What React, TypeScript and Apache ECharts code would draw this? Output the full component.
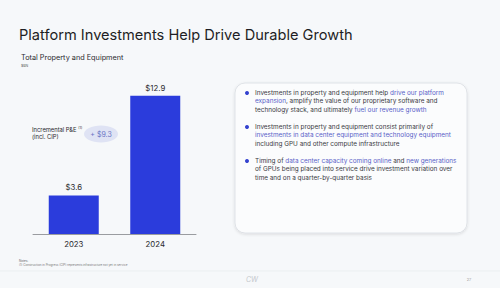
import React, { useEffect, useRef } from "react";
import * as echarts from "echarts";

const categories = ["2023", "2024"];
const values = [3.6, 12.9];
const valueLabels = ["$3.6", "$12.9"];
const incrementLabel = "+ $9.3";
const title = "Platform Investments Help Drive Durable Growth";
const subtitle = "Total Property and Equipment";
const unit = "$BN";
const bullets = [
  [
    "Investments in property and equipment help {h|drive our platform}",
    "{h|expansion}, amplify the value of our proprietary software and",
    "technology stack, and ultimately {h|fuel our revenue growth}",
  ],
  [
    "Investments in property and equipment consist primarily of",
    "{h|investments in data center equipment and technology equipment}",
    "including GPU and other compute infrastructure",
  ],
  [
    "Timing of {h|data center capacity coming online} and {h|new generations}",
    "of GPUs being placed into service drive investment variation over",
    "time and on a quarter-by-quarter basis",
  ],
];

const FONT = "Inter, 'Noto Sans', sans-serif";
const BLUE = "#2b3cdc";

export default function App() {
  const ref = useRef<HTMLDivElement>(null);
  useEffect(() => {
    const chart = echarts.init(ref.current!, null, { renderer: "svg" });
    const bulletTexts: any[] = [];
    const bulletStarts = [93, 127, 161];
    bullets.forEach((lines, i) => {
      bulletTexts.push({
        type: "circle",
        shape: { cx: 247, cy: bulletStarts[i], r: 2 },
        style: { fill: "#3442cf" },
      });
      bulletTexts.push({
        type: "text",
        x: 255,
        y: bulletStarts[i] - 4.5,
        style: {
          text: lines.join("\n"),
          fontFamily: FONT,
          fontSize: 6.4,
          lineHeight: 8.4,
          fill: "#3a3a3f",
          rich: {
            h: { fill: "#5a62c8", fontFamily: FONT, fontSize: 6.4, lineHeight: 8.4 },
          },
        },
      });
    });

    chart.setOption({
      animation: false,
      backgroundColor: "#f6f8fa",
      grid: { left: 33, right: 304, top: 84, bottom: 54 },
      xAxis: {
        type: "category",
        data: categories,
        axisLine: { lineStyle: { color: "#9a9ca0", width: 1 } },
        axisTick: { show: false },
        axisLabel: { color: "#2a2a2e", fontSize: 7.8, fontFamily: FONT, margin: 6 },
      },
      yAxis: { type: "value", min: 0, max: 14, show: false, splitLine: { show: false } },
      series: [
        {
          type: "bar",
          data: values,
          barWidth: 50,
          itemStyle: { color: BLUE },
          label: {
            show: true,
            position: "top",
            distance: 4,
            formatter: (p: any) => valueLabels[p.dataIndex],
            color: "#2a2a2e",
            fontSize: 7.8,
            fontFamily: FONT,
          },
        },
      ],
      graphic: [
        {
          type: "text",
          x: 19,
          y: 27,
          style: { text: title, fontFamily: FONT, fontSize: 14.6, fill: "#1e1e24" },
        },
        {
          type: "text",
          x: 21,
          y: 54,
          style: { text: subtitle, fontFamily: FONT, fontSize: 7.3, fill: "#2a2a2e" },
        },
        {
          type: "text",
          x: 21,
          y: 64,
          style: { text: unit, fontFamily: FONT, fontSize: 3.5, fill: "#555" },
        },
        {
          type: "text",
          x: 32,
          y: 126,
          style: {
            text: "Incremental P&E {s|(1)}\n(incl. CIP)",
            fontFamily: FONT,
            fontSize: 5.8,
            lineHeight: 7,
            fill: "#2a2a2e",
            rich: { s: { fontSize: 3.5, fontFamily: FONT, verticalAlign: "top", fill: "#2a2a2e" } },
          },
        },
        {
          type: "ellipse",
          shape: { cx: 101, cy: 134, rx: 17, ry: 8.5 },
          style: { fill: "#dfe3f4" },
        },
        {
          type: "text",
          x: 101,
          y: 134,
          style: {
            text: incrementLabel,
            fontFamily: FONT,
            fontSize: 7,
            fill: "#6a74c4",
            align: "center",
            verticalAlign: "middle",
          },
        },
        {
          type: "rect",
          shape: { x: 235, y: 83, width: 232, height: 150, r: 10 },
          style: {
            fill: "#fbfcfd",
            stroke: "#d9dde2",
            lineWidth: 0.8,
            shadowBlur: 3,
            shadowOffsetY: 1,
            shadowColor: "rgba(0,0,0,0.12)",
          },
        },
        ...bulletTexts,
        {
          type: "text",
          x: 19,
          y: 259,
          style: { text: "Notes:", fontFamily: FONT, fontSize: 3, fill: "#666" },
        },
        {
          type: "text",
          x: 19,
          y: 263,
          style: {
            text: "(1) Construction in Progress (CIP) represents infrastructure not yet in service",
            fontFamily: FONT,
            fontSize: 3,
            fill: "#777",
          },
        },
        {
          type: "line",
          shape: { x1: 0, y1: 271, x2: 500, y2: 271 },
          style: { stroke: "#e6e9ed", lineWidth: 0.6 },
        },
        {
          type: "text",
          x: 252,
          y: 279,
          style: {
            text: "CW",
            fontFamily: FONT,
            fontSize: 7,
            fontStyle: "italic",
            fill: "#c4c7cc",
            align: "center",
            verticalAlign: "middle",
          },
        },
        {
          type: "text",
          x: 469,
          y: 279,
          style: {
            text: "27",
            fontFamily: FONT,
            fontSize: 4,
            fill: "#999",
            align: "center",
            verticalAlign: "middle",
          },
        },
      ],
    });
    return () => chart.dispose();
  }, []);
  return <div ref={ref} style={{ width: 500, height: 288, position: "absolute", left: 0, top: 0 }} />;
}
